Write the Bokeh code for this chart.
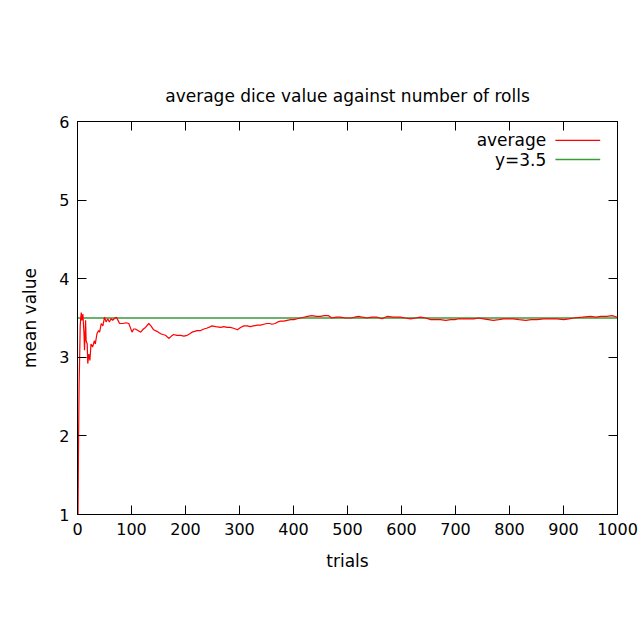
from bokeh.plotting import figure
from bokeh.models import Range1d, LinearAxis, Label, Arrow, FixedTicker
from bokeh.embed import file_html
from bokeh.resources import INLINE

title_text = "average dice value against number of rolls"
x_label = "trials"
y_label = "mean value"
x_ticks = [0, 100, 200, 300, 400, 500, 600, 700, 800, 900, 1000]
y_ticks = [1, 2, 3, 4, 5, 6]
expected = 3.5
series_names = ["average", "y=3.5"]

trials = [1, 2, 3, 4, 5, 6, 7, 8, 10, 12, 13, 15, 16, 18, 19, 21, 23, 25, 28, 31,
          33, 36, 39, 41, 44, 47, 50, 53, 56, 59, 62, 65, 68, 72, 75, 78, 84, 90, 95, 101,
          104, 107, 112, 117, 122, 126, 132, 136, 141, 147, 154, 158, 163, 169, 174, 178,
          184, 191, 197, 203, 208, 212, 217, 221, 228, 234, 239, 243, 249, 256, 265, 271,
          277, 283, 289, 296, 302, 308, 314, 320, 326, 333, 339, 345, 351, 356, 360, 366,
          371, 376, 382, 388, 395, 401, 407, 413, 419, 426, 434, 442, 450, 457, 465, 471,
          479, 487, 496, 506, 513, 521, 528, 536, 545, 555, 564, 573, 585, 598, 607, 617,
          626, 635, 645, 654, 663, 672, 682, 691, 699, 706, 715, 725, 734, 743, 752, 761,
          770, 780, 789, 798, 807, 818, 830, 840, 851, 863, 876, 888, 900, 910, 919, 935,
          950, 960, 969, 980, 990, 1000]

averages = [1.00, 2.00, 2.67, 3.00, 3.40, 3.50, 3.57, 3.47, 3.55, 3.30, 3.09, 3.47, 3.21,
            3.17, 2.92, 3.04, 2.96, 3.17, 3.13, 3.21, 3.17, 3.30, 3.34, 3.32, 3.43, 3.40,
            3.51, 3.45, 3.49, 3.45, 3.49, 3.47, 3.49, 3.51, 3.47, 3.43, 3.43, 3.44, 3.43,
            3.32, 3.36, 3.36, 3.34, 3.32, 3.36, 3.38, 3.43, 3.40, 3.35, 3.33, 3.30, 3.29,
            3.28, 3.24, 3.27, 3.29, 3.28, 3.28, 3.27, 3.28, 3.30, 3.32, 3.33, 3.34, 3.34,
            3.36, 3.37, 3.38, 3.40, 3.39, 3.38, 3.39, 3.38, 3.38, 3.37, 3.35, 3.38, 3.40,
            3.40, 3.39, 3.40, 3.41, 3.41, 3.42, 3.43, 3.43, 3.42, 3.43, 3.45, 3.46, 3.46,
            3.47, 3.48, 3.48, 3.49, 3.50, 3.51, 3.52, 3.53, 3.52, 3.52, 3.53, 3.53, 3.50,
            3.51, 3.51, 3.50, 3.50, 3.51, 3.52, 3.51, 3.50, 3.51, 3.51, 3.49, 3.52, 3.51,
            3.51, 3.50, 3.49, 3.50, 3.51, 3.50, 3.48, 3.48, 3.48, 3.47, 3.48, 3.48, 3.49,
            3.49, 3.49, 3.49, 3.50, 3.49, 3.48, 3.47, 3.48, 3.49, 3.49, 3.49, 3.48, 3.47,
            3.48, 3.48, 3.49, 3.49, 3.49, 3.48, 3.49, 3.50, 3.51, 3.52, 3.51, 3.52, 3.52,
            3.53, 3.51]

FONT = "DejaVu Sans"
FS = "16px"
FS_BIG = "17px"
RED = "#ff0000"
GREEN = "#3a9a3a"

p = figure(width=640, height=640, output_backend="svg", toolbar_location=None,
           x_range=Range1d(0, 1000), y_range=Range1d(1, 6),
           min_border_left=77, min_border_right=23, min_border_top=121, min_border_bottom=126)

p.title.text = title_text
p.title.align = "center"
p.title.text_font = FONT
p.title.text_font_size = FS_BIG
p.title.text_font_style = "normal"
p.title.text_color = "black"
p.title.standoff = 31

p.xgrid.visible = False
p.ygrid.visible = False
p.outline_line_color = "black"
p.outline_line_width = 1
p.background_fill_color = "white"
p.border_fill_color = "white"

def style_axis(ax, ticks, show_labels):
    ax.ticker = FixedTicker(ticks=ticks)
    ax.major_tick_in = 9
    ax.major_tick_out = 0
    ax.minor_tick_in = 0
    ax.minor_tick_out = 0
    ax.axis_line_color = "black"
    ax.major_tick_line_color = "black"
    ax.major_label_text_font = FONT
    ax.major_label_text_font_size = FS
    ax.major_label_text_color = "black" if show_labels else None
    ax.axis_label_text_font = FONT
    ax.axis_label_text_font_size = FS_BIG
    ax.axis_label_text_font_style = "normal"
    ax.axis_label_text_color = "black"
    ax.major_label_standoff = 8

style_axis(p.xaxis[0], x_ticks, True)
style_axis(p.yaxis[0], y_ticks, True)
p.xaxis[0].axis_label = x_label
p.yaxis[0].axis_label = y_label
p.xaxis[0].axis_label_standoff = 13
p.yaxis[0].axis_label_standoff = 16

top = LinearAxis()
style_axis(top, x_ticks, False)
top.major_label_text_font_size = "0px"
top.major_label_standoff = 0
p.add_layout(top, "above")
right = LinearAxis()
style_axis(right, y_ticks, False)
right.major_label_text_font_size = "0px"
right.major_label_standoff = 0
p.add_layout(right, "right")

p.line(x=[0, 1000], y=[expected, expected], line_color=GREEN, line_width=1.5)
p.line(x=trials, y=averages, line_color=RED, line_width=1.2)

# legend (top right, text to the left of the sample line)
leg_text_x = 868
leg_line_x0, leg_line_x1 = 885, 968
leg_y = [5.76, 5.515]
for name, color, yy in zip(series_names, [RED, GREEN], leg_y):
    p.add_layout(Label(x=leg_text_x, y=yy, text=name, text_align="right",
                       text_baseline="middle", text_font=FONT, text_font_size=FS_BIG,
                       text_color="black"))
    p.add_layout(Arrow(x_start=leg_line_x0, y_start=yy, x_end=leg_line_x1, y_end=yy,
                       end=None, line_color=color,
                       line_width=1.5 if color == GREEN else 1.2))

open("out.html", "w").write(file_html(p, INLINE))
